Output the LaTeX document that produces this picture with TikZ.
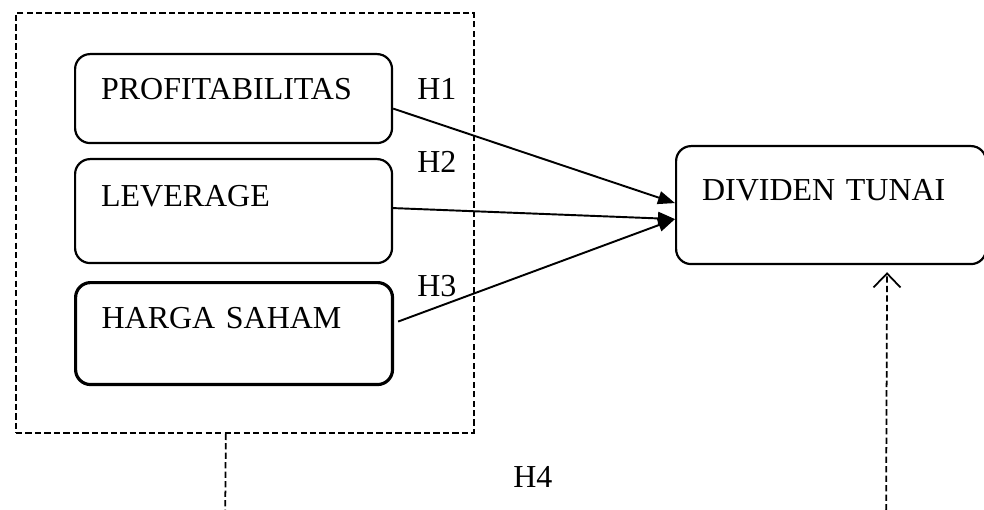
\documentclass[tikz,border=0pt]{standalone}
\usepackage{fontspec}
\setmainfont{Liberation Serif}
\usetikzlibrary{arrows.meta}
\tikzset{
  varbox/.style={
    draw=black,
    rounded corners=0.3cm,
    line width=1.25pt,
    anchor=north west,
    align=left,
    inner ysep=0pt,
    inner xsep=0.52cm,
    text width=5.3cm,
    font=\fontsize{18.2}{21}\selectfont
  },
  hlabel/.style={anchor=base west,inner sep=0pt,font=\fontsize{18.2}{21}\selectfont},
  effect/.style={-{Triangle[length=3.4mm,width=2.6mm]},line width=1.1pt},
  groupframe/.style={draw=black,line width=1pt,dash pattern=on 3.6pt off 1.8pt,
    anchor=north west,inner sep=0pt},
  joint/.style={-{Straight Barb[length=2.8mm,width=5.4mm]},line width=1pt,
    dash pattern=on 3.6pt off 1.8pt}
}

\begin{document}
\begin{tikzpicture}[x=0.02cm,y=-0.02cm]
  \useasboundingbox (0,0) rectangle (984,510);
  \clip (0,0) rectangle (984,510);

  % frame round the three variables
  \node[groupframe,minimum width=9.16cm,minimum height=8.4cm] (frame) at (15,12) {};

  \node[varbox,text height=0.9cm,text depth=0.88cm] (prof) at (74,53) {PROFITABILITAS};
  \node[varbox,text height=0.94cm,text depth=1.14cm] (lev) at (74,158) {LEVERAGE};
  \node[varbox,line width=1.8pt,text height=0.92cm,text depth=1.12cm] (harga) at (74,281) {HARGA SAHAM};
  \node[varbox,text width=5.16cm,text height=1.08cm,text depth=1.28cm] (div) at (675,145) {DIVIDEN TUNAI};

  \draw[effect] ([yshift=-0.2cm]prof.east) -- ([yshift=0.04cm]div.west);
  \draw[effect] ([yshift=0.06cm]lev.east) -- ([yshift=-0.28cm]div.west);
  \draw[effect] ([xshift=0.08cm,yshift=0.24cm]harga.east) -- ([yshift=-0.28cm]div.west);

  \node[hlabel] (h1) at (417,100) {H1};
  \node[hlabel] (h2) at (417,173) {H2};
  \node[hlabel] (h3) at (417,296) {H3};
  \node[hlabel] (h4) at (513,487) {H4};

  % simultaneous effect, runs below the page edge
  \coordinate (leftdown) at (225,540);
  \coordinate (rightdown) at (886,540);
  \draw[joint] ([xshift=-0.38cm]frame.south) -- (leftdown) -- (rightdown)
    -- ([xshift=1.12cm,yshift=-0.14cm]div.south);
\end{tikzpicture}
\end{document}
